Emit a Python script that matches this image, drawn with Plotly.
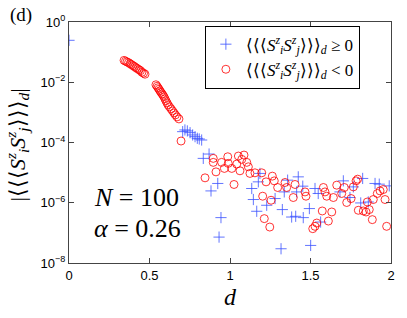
import plotly.graph_objects as go

# Blue: <<<Sz Sz>>>_d >= 0
pos_d = [0.0,
         0.706, 0.720, 0.735, 0.752, 0.768, 0.783, 0.797, 0.809, 0.824,
         0.834, 0.870, 0.882, 0.924, 0.944, 0.932,
         1.135, 1.145, 1.166, 1.186, 1.176, 1.228, 1.280, 1.325, 1.317,
         1.358, 1.337, 1.383, 1.408, 1.424, 1.414, 1.452, 1.455, 1.493,
         1.501, 1.528, 1.563, 1.548, 1.704, 1.683, 1.745, 1.766, 1.824,
         1.812, 1.859, 1.901, 1.927, 1.989]
pos_val = [0.247,
           2.29e-4, 2.61e-4, 2.42e-4, 2.12e-4, 1.78e-4, 1.56e-4, 1.38e-4, 1.31e-4, 1.21e-4,
           2.97e-5, 4.14e-5, 2.47e-6, 4.37e-6, 3.21e-7, 7.24e-8,
           2.97e-6, 1.28e-6, 5.21e-7, 9.4e-6, 4.94e-6, 8.25e-7, 1.38e-6, 5.93e-7, 2.97e-8,
           5.62e-6, 2.29e-6, 3.36e-7, 3.55e-7, 7.24e-6, 2.29e-6, 3.55e-6, 3.21e-7, 6.41e-7,
           3.83e-8, 2.97e-6, 2.29e-7, 2.03e-6, 5.33e-6, 2.29e-6, 1.49e-6, 3.36e-6, 6.41e-6,
           9.85e-7, 1.06e-6, 4.37e-6, 4.14e-6, 3.63e-6]

# Red: <<<Sz Sz>>>_d < 0 (absolute values)
neg_d = [0.342, 0.351, 0.360, 0.370, 0.379, 0.388, 0.398, 0.407, 0.416, 0.425,
         0.435, 0.444, 0.453, 0.463, 0.472,
         0.540, 0.547, 0.553, 0.559, 0.565, 0.571, 0.578, 0.584, 0.590, 0.596,
         0.602, 0.609, 0.615, 0.624, 0.634, 0.643, 0.652, 0.661, 0.671, 0.683,
         0.696,
         0.845, 0.896, 0.896, 0.913, 0.948, 0.965, 0.986, 0.989, 1.011, 1.025,
         1.042, 1.052, 1.062, 1.073, 1.087, 1.104, 1.114, 1.124, 1.155, 1.197,
         1.203, 1.224, 1.255, 1.263, 1.275, 1.213, 1.247, 1.296, 1.342, 1.352,
         1.404, 1.393, 1.466, 1.472, 1.573, 1.580, 1.590, 1.601, 1.632, 1.611,
         1.539, 1.528, 1.514, 1.642, 1.663, 1.694, 1.710, 1.725, 1.752, 1.766,
         1.783, 1.793, 1.797, 1.828, 1.845, 1.865, 1.853, 1.884, 1.890, 1.915,
         1.932, 1.952, 1.963, 1.973]
neg_val = [5.33e-2, 5.0e-2, 4.71e-2, 4.47e-2, 4.14e-2, 3.83e-2, 3.55e-2, 3.29e-2, 3.04e-2, 2.82e-2,
           2.61e-2, 2.42e-2, 2.15e-2, 2.0e-2, 1.85e-2,
           8.25e-3, 7.36e-3, 6.56e-3, 5.85e-3, 5.21e-3, 4.64e-3, 4.14e-3, 3.69e-3, 3.29e-3, 2.82e-3,
           2.42e-3, 2.07e-3, 1.78e-3, 1.53e-3, 1.31e-3, 1.12e-3, 9.62e-4, 8.25e-4, 7.08e-4, 6.07e-4,
           1.12e-4,
           6.71e-6, 2.97e-5, 2.19e-5, 1.06e-5, 2.19e-5, 1.38e-5, 3.36e-5, 2.03e-5, 1.38e-5, 4.04e-6,
           1.92e-5, 3.55e-5, 1.15e-5, 2.75e-5, 3.83e-5, 2.19e-5, 1.56e-5, 9.4e-6, 9.85e-6, 9.85e-6,
           1.65e-6, 4.94e-6, 1.21e-6, 7.64e-6, 5.33e-6, 2.97e-7, 1.56e-7, 3.21e-6, 4.71e-6, 3.21e-6,
           4.04e-6, 1.49e-6, 2.29e-6, 1.65e-6, 5.33e-7, 3.21e-6, 2.29e-6, 1.65e-6, 4.94e-7, 2.47e-7,
           2.12e-7, 1.65e-7, 1.38e-7, 1.49e-6, 3.83e-6, 2.03e-6, 3.21e-6, 1.02e-6, 1.38e-6, 3.36e-6,
           5.33e-6, 6.07e-6, 5.62e-7, 5.33e-7, 4.94e-7, 5.93e-7, 1.06e-6, 2.75e-7, 1.28e-6, 2.03e-6,
           2.47e-6, 2.75e-6, 1.28e-6, 1.65e-7]

x_ticks = [0, 0.5, 1, 1.5, 2]
x_labels = ["0", "0.5", "1", "1.5", "2"]
y_ticks = [1e-8, 1e-6, 1e-4, 1e-2, 1]
y_labels = ["10<sup>−8</sup>", "10<sup>−6</sup>", "10<sup>−4</sup>", "10<sup>−2</sup>", "10<sup>0</sup>"]

SERIF = "Liberation Serif"
SANS = "Liberation Sans"
corr = "⟨⟨⟨<i>S</i><sup><i>z</i></sup><sub><i>i</i></sub><i>S</i><sup><i>z</i></sup><sub><i>j</i></sub>⟩⟩⟩<sub><i>d</i></sub>"

fig = go.Figure()
fig.add_trace(go.Scatter(
    x=pos_d, y=pos_val, mode="markers", name=corr + " ≥ 0",
    marker=dict(symbol="cross-thin-open", size=8, color="#3a50ff",
                line=dict(color="#3a50ff", width=0.8))))
fig.add_trace(go.Scatter(
    x=neg_d, y=neg_val, mode="markers", name=corr + " < 0",
    marker=dict(symbol="circle-open", size=8, color="#ff0000",
                line=dict(color="#ff0000", width=0.8))))

axis_common = dict(showline=True, linecolor="#444444", linewidth=1, mirror="ticks",
                   ticks="inside", ticklen=5, tickcolor="#444444", showgrid=False,
                   zeroline=False, tickfont=dict(family=SANS, size=13, color="black"))

fig.update_layout(
    width=407, height=318,
    margin=dict(l=69, r=16, t=22, b=55),
    paper_bgcolor="white", plot_bgcolor="white",
    showlegend=True,
    legend=dict(x=0.422, y=0.985, xanchor="left", yanchor="top",
                bordercolor="black", borderwidth=1, bgcolor="white",
                font=dict(family=SERIF, size=17, color="black"),
                itemsizing="trace", tracegroupgap=0),
    xaxis=dict(range=[0, 2], tickvals=x_ticks, ticktext=x_labels, **axis_common),
    yaxis=dict(type="log", range=[-8, 0], tickvals=y_ticks, ticktext=y_labels, **axis_common),
    annotations=[
        dict(text="<i>d</i>", xref="paper", yref="paper", x=0.5, y=-0.08,
             xanchor="center", yanchor="top", showarrow=False,
             font=dict(family=SERIF, size=24, color="black")),
        dict(text="|" + corr + "|", xref="paper", yref="paper", x=-0.16, y=0.49,
             xanchor="center", yanchor="middle", textangle=-90, showarrow=False,
             font=dict(family=SERIF, size=22, color="black")),
        dict(text="(d)", xref="paper", yref="paper", x=-0.149, y=1.031,
             xanchor="center", yanchor="middle", showarrow=False,
             font=dict(family=SERIF, size=19, color="black")),
        dict(text="<i>N</i> = 100", xref="paper", yref="paper", x=0.07, y=0.27,
             xanchor="left", yanchor="middle", showarrow=False,
             font=dict(family=SERIF, size=26, color="black")),
        dict(text="<i>α</i> = 0.26", xref="paper", yref="paper", x=0.07, y=0.145,
             xanchor="left", yanchor="middle", showarrow=False,
             font=dict(family=SERIF, size=26, color="black")),
    ],
)

fig.write_html("out.html", config={"displayModeBar": False},
               post_script="document.body.style.margin='0';document.body.style.padding='0';")
